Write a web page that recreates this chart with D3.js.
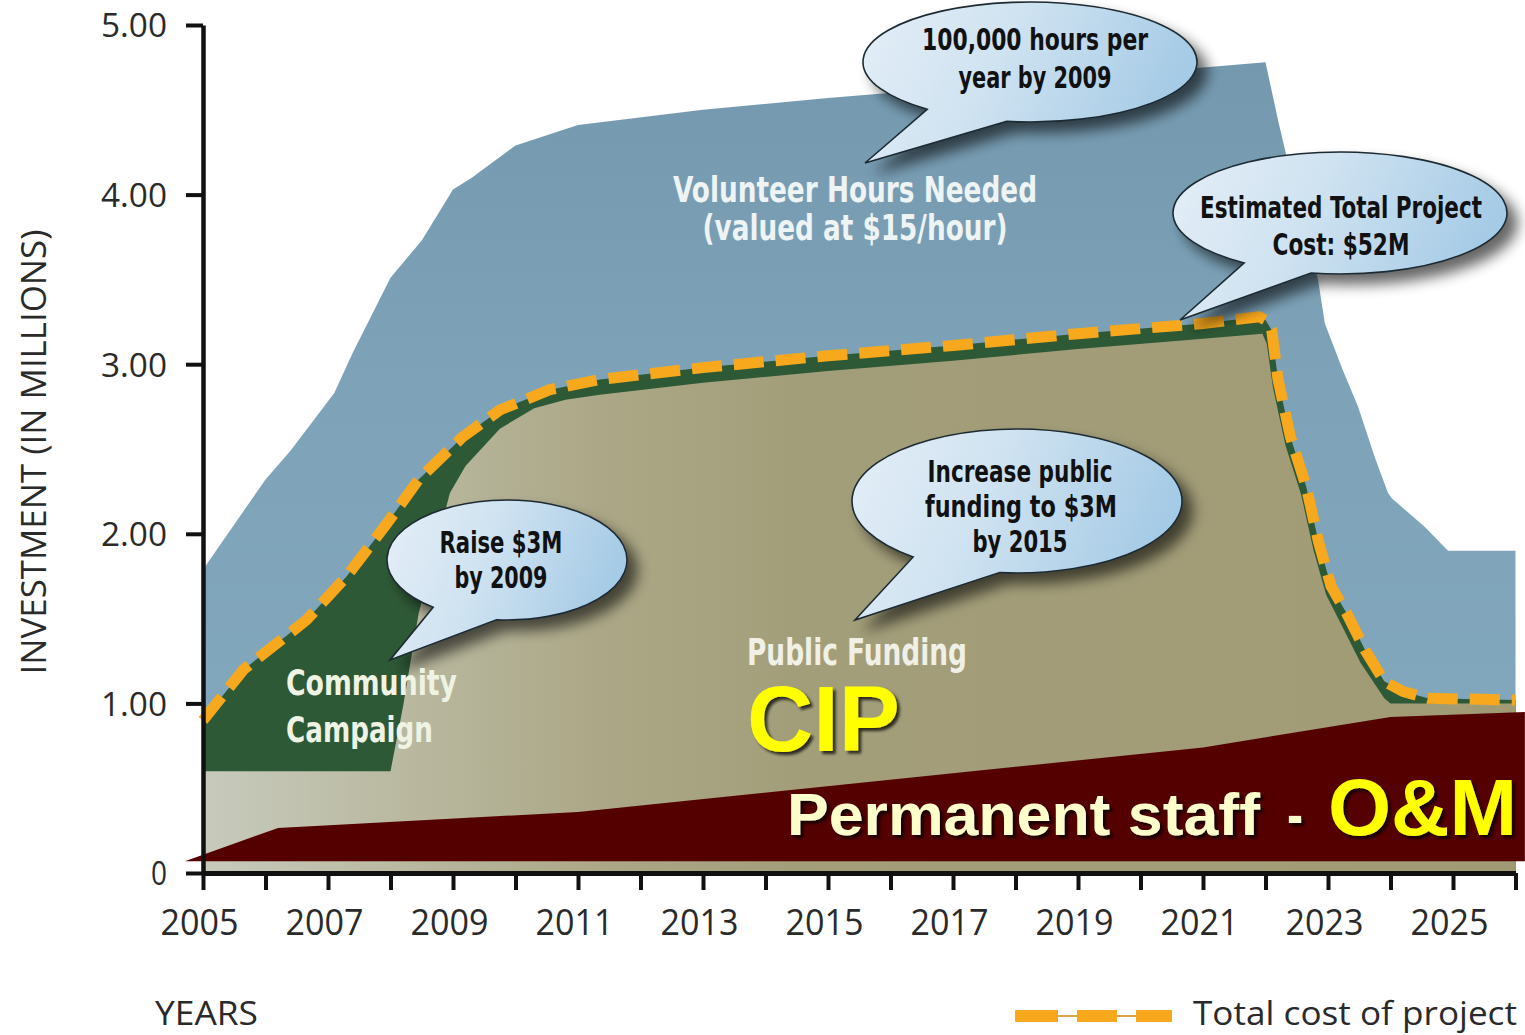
<!DOCTYPE html>
<html><head><meta charset="utf-8">
<script src="https://cdn.jsdelivr.net/npm/d3@7"></script>
<style>
html,body{margin:0;padding:0;background:#fff;}
svg{display:block;}
</style></head>
<body>
<svg id="chart" width="1525" height="1035"></svg>
<script>
// ---------- DATA ----------
const tickYears = [2005,2006,2007,2008,2009,2010,2011,2012,2013,2014,2015,2016,2017,2018,2019,2020,2021,2022,2023,2024,2025,2026];
const labelYears = [2005,2007,2009,2011,2013,2015,2017,2019,2021,2023,2025];
const yTicks = [0,1,2,3,4,5];
const yTickLabels = ["0","1.00","2.00","3.00","4.00","5.00"];

// Volunteer hours (top of blue area), [year, $M]
const volunteer = [[2005.0,1.79],[2006.0,2.32],[2006.4,2.49],[2007.1,2.83],[2007.4,3.07],[2008.0,3.51],[2008.5,3.73],[2009.0,4.03],[2009.3,4.10],[2010.0,4.29],[2011.0,4.41],[2013.0,4.50],[2015.0,4.57],[2017.0,4.63],[2019.0,4.69],[2021.0,4.75],[2022.0,4.78],[2022.2,4.44],[2022.5,3.97],[2022.84,3.50],[2022.95,3.24],[2023.22,2.98],[2023.48,2.75],[2023.75,2.45],[2023.96,2.24],[2024.02,2.21],[2024.55,2.04],[2024.92,1.90],[2026.0,1.90]];
// Total cost of project (dashed line)
const totalCost = [[2005.0,0.90],[2005.65,1.20],[2006.65,1.49],[2007.3,1.75],[2007.9,2.04],[2008.45,2.32],[2009.15,2.57],[2009.75,2.73],[2010.55,2.85],[2011.35,2.91],[2013.0,2.98],[2015.0,3.05],[2017.0,3.11],[2019.0,3.18],[2021.0,3.24],[2021.9,3.28],[2022.0,3.26],[2022.1,3.20],[2022.2,2.91],[2022.4,2.57],[2022.65,2.28],[2022.85,1.95],[2023.05,1.69],[2023.3,1.53],[2023.6,1.31],[2023.9,1.13],[2024.2,1.07],[2024.6,1.03],[2026.0,1.02]];
// Public funding (top of olive area); community campaign fills between this and total
const publicFunding = [[2005.0,0.60],[2008.0,0.60],[2008.2,0.98],[2008.45,1.53],[2008.95,2.24],[2009.2,2.40],[2009.75,2.62],[2010.3,2.74],[2010.8,2.79],[2011.35,2.82],[2013.0,2.89],[2015.0,2.96],[2017.0,3.02],[2019.0,3.09],[2021.0,3.15],[2021.95,3.18],[2022.02,3.12],[2022.12,2.86],[2022.32,2.52],[2022.57,2.23],[2022.77,1.90],[2022.97,1.64],[2023.22,1.46],[2023.52,1.24],[2023.9,1.03],[2024.0,1.00],[2024.6,1.00],[2026.0,1.00]];
// Permanent staff O&M band
const omTop = [[2004.71,0.07],[2006.2,0.265],[2011.0,0.36],[2021.0,0.74],[2024.0,0.92],[2026.15,0.95]];
const omBase = 0.07;

// ---------- SETUP ----------
const svg = d3.select("#chart");
const x = d3.scaleLinear().domain([2005, 2026]).range([203, 1515.5]);
const y = d3.scaleLinear().domain([0, 5]).range([873, 25]);

const defs = svg.append("defs");
const pg = defs.append("linearGradient").attr("id","pubGrad").attr("gradientUnits","userSpaceOnUse")
  .attr("x1",203).attr("y1",0).attr("x2",1515).attr("y2",0);
[[0,"#c7cabc"],[0.16,"#b9b89f"],[0.3,"#aca887"],[0.45,"#a39e7a"],[1,"#a19b75"]].forEach(s=>pg.append("stop").attr("offset",s[0]).attr("stop-color",s[1]));
const bg = defs.append("linearGradient").attr("id","blueGrad").attr("gradientUnits","userSpaceOnUse")
  .attr("x1",0).attr("y1",60).attr("x2",0).attr("y2",870);
[[0,"#7499af"],[0.4,"#7ea3b9"],[1,"#83a9bf"]].forEach(s=>bg.append("stop").attr("offset",s[0]).attr("stop-color",s[1]));
const bub = defs.append("linearGradient").attr("id","bubGrad").attr("x1",0).attr("y1",0).attr("x2",1).attr("y2",0.25);
[[0,"#e4eef7"],[0.45,"#d0e3f1"],[1,"#a6cbe6"]].forEach(s=>bub.append("stop").attr("offset",s[0]).attr("stop-color",s[1]));

const sh = defs.append("filter").attr("id","bubShadow").attr("x","-20%").attr("y","-20%").attr("width","150%").attr("height","160%");
sh.append("feGaussianBlur").attr("in","SourceAlpha").attr("stdDeviation",7).attr("result","b");
sh.append("feOffset").attr("in","b").attr("dx",10).attr("dy",10).attr("result","o");
sh.append("feComponentTransfer").attr("in","o").attr("result","o2").append("feFuncA").attr("type","linear").attr("slope",0.6);
const m1 = sh.append("feMerge"); m1.append("feMergeNode").attr("in","o2"); m1.append("feMergeNode").attr("in","SourceGraphic");

const ts = defs.append("filter").attr("id","txtShadow").attr("x","-10%").attr("y","-10%").attr("width","130%").attr("height","140%");
ts.append("feDropShadow").attr("dx",3).attr("dy",3).attr("stdDeviation",1.5).attr("flood-color","#000").attr("flood-opacity",0.75);

// ---------- AREAS ----------
const areaGen = d3.area().x(d=>x(d[0])).y0(y(0)).y1(d=>y(d[1]));
svg.append("path").datum(volunteer).attr("d",areaGen).attr("fill","url(#blueGrad)");
svg.append("path").datum(totalCost).attr("d",areaGen).attr("fill","#2e5936");
svg.append("path").datum(publicFunding).attr("d",areaGen).attr("fill","url(#pubGrad)");

const omArea = d3.area().x(d=>x(d[0])).y0(y(omBase)).y1(d=>y(d[1]));
svg.append("path").datum(omTop).attr("d",omArea).attr("fill","#550000");

// total line: dashed orange
const lineGen = d3.line().x(d=>x(d[0])).y(d=>y(d[1]));
svg.append("path").datum(totalCost).attr("d",lineGen).attr("fill","none")
  .attr("stroke","#f8a81c").attr("stroke-width",11).attr("stroke-dasharray","30 12").attr("stroke-linejoin","round");

// ---------- BUBBLES ----------
function bubblePath(cx, cy, rx, ry, t1, t2, tx, ty){
  const r = Math.PI/180;
  const p1 = [cx + rx*Math.cos(t1*r), cy + ry*Math.sin(t1*r)];
  const p2 = [cx + rx*Math.cos(t2*r), cy + ry*Math.sin(t2*r)];
  return `M${p2[0]},${p2[1]} A${rx},${ry} 0 1 1 ${p1[0]},${p1[1]} L${tx},${ty} Z`;
}
const bubbles = [
  {cx:1030, cy:62, rx:167, ry:60, t1:98, t2:128, tx:865, ty:163,
   lines:[["100,000 hours per",1035,50,226],["year by 2009",1035,88,153]]},
  {cx:1340, cy:213, rx:167, ry:61, t1:100, t2:125, tx:1180, ty:320,
   lines:[["Estimated Total Project",1341,218,282],["Cost: $52M",1341,255,137]]},
  {cx:507, cy:560, rx:120, ry:60, t1:95, t2:128, tx:390, ty:660,
   lines:[["Raise $3M",501,553,123],["by 2009",501,588,93]]},
  {cx:1017, cy:501, rx:165, ry:72, t1:96, t2:129, tx:855, ty:620,
   lines:[["Increase public",1020,482,185],["funding to $3M",1021,517,192],["by 2015",1020,552,95]]}
];
const condensed = "'Liberation Sans Narrow','Arial Narrow','DejaVu Sans Condensed',sans-serif";
bubbles.forEach(b=>{
  svg.append("path").attr("d",bubblePath(b.cx,b.cy,b.rx,b.ry,b.t1,b.t2,b.tx,b.ty))
    .attr("fill","url(#bubGrad)").attr("stroke","#1e2a33").attr("stroke-width",1.6)
    .attr("filter","url(#bubShadow)");
  b.lines.forEach(l=>{
    svg.append("text").text(l[0]).attr("x",l[1]).attr("y",l[2]).attr("text-anchor","middle")
      .attr("font-family",condensed).attr("font-weight",700).attr("font-size",31)
      .attr("fill","#111").attr("textLength",l[3]).attr("lengthAdjust","spacingAndGlyphs");
  });
});

// ---------- AREA LABELS ----------
function label(txt, xx, yy, size, w, fill, anchor, opts){
  const t = svg.append("text").text(txt).attr("x",xx).attr("y",yy)
    .attr("font-family",(opts&&opts.family)||condensed).attr("font-weight",700).attr("font-size",size)
    .attr("fill",fill).attr("text-anchor",anchor||"start")
    .attr("textLength",w).attr("lengthAdjust","spacingAndGlyphs");
  if(opts && opts.filter) t.attr("filter",opts.filter);
  return t;
}
label("Volunteer Hours Needed", 855, 202, 35, 364, "#eef3f4", "middle");
label("(valued at $15/hour)", 855, 240, 35, 305, "#eef3f4", "middle");
label("Community", 286, 695, 36, 171, "#eef3e4", "start");
label("Campaign", 286, 742, 36, 147, "#eef3e4", "start");
label("Public Funding", 747, 665, 38, 220, "#f0f0e6", "start");
const arialB = "'Liberation Sans',Arial,sans-serif";
label("CIP", 747, 751, 92, 153, "#ffff00", "start", {family:arialB, filter:"url(#txtShadow)"});
label("Permanent staff", 787, 835, 60, 473, "#ffffcc", "start", {family:arialB, filter:"url(#txtShadow)"});
label("-", 1287, 835, 60, 16, "#ffffcc", "start", {family:arialB, filter:"url(#txtShadow)"});
label("O&M", 1328, 835, 80, 189, "#ffff00", "start", {family:arialB, filter:"url(#txtShadow)"});

// ---------- AXES ----------
const regular = "'Open Sans','Noto Sans',sans-serif";
const yAxis = d3.axisLeft(y).tickValues(yTicks).tickFormat((d,i)=>yTickLabels[i]).tickSize(17).tickSizeOuter(0).tickPadding(19);
const gy = svg.append("g").attr("transform",`translate(${x(2005)},0)`).call(yAxis);
gy.select(".domain").attr("stroke","#111").attr("stroke-width",4.5);
gy.selectAll(".tick line").attr("stroke","#111").attr("stroke-width",4);
gy.selectAll(".tick text").attr("font-family",regular).attr("font-size",33).attr("fill","#2a2a2a")
  .attr("dy","0.36em")
  .each(function(d,i){ const w = yTickLabels[i].length===1 ? 16 : 66; d3.select(this).attr("textLength",w).attr("lengthAdjust","spacingAndGlyphs"); });

const xAxis = d3.axisBottom(x).tickValues(tickYears)
  .tickFormat(d => labelYears.includes(d) ? String(d) : "").tickSize(17).tickSizeOuter(0).tickPadding(0);
const gx = svg.append("g").attr("transform",`translate(0,${y(0)})`).call(xAxis);
gx.select(".domain").attr("stroke","#111").attr("stroke-width",5);
gx.selectAll(".tick line").attr("stroke","#111").attr("stroke-width",4);
gx.selectAll(".tick text").attr("font-family",regular).attr("font-size",36).attr("fill","#2a2a2a")
  .attr("y",62).attr("dy",0).attr("dx",-4)
  .each(function(d){ if(labelYears.includes(d)) d3.select(this).attr("textLength",78).attr("lengthAdjust","spacingAndGlyphs"); });

// axis titles
svg.append("text").text("INVESTMENT (IN MILLIONS)").attr("transform","translate(46,452) rotate(-90)")
  .attr("text-anchor","middle").attr("font-family",regular).attr("font-size",34).attr("fill","#2a2a2a")
  .attr("textLength",445).attr("lengthAdjust","spacingAndGlyphs");
svg.append("text").text("YEARS").attr("x",155).attr("y",1025).attr("font-family",regular).attr("font-size",33)
  .attr("fill","#2a2a2a").attr("textLength",103).attr("lengthAdjust","spacingAndGlyphs");

// legend
const legendSeries = ["Total cost of project"];
const lg = svg.append("g");
lg.append("line").attr("x1",1015).attr("x2",1172).attr("y1",1016).attr("y2",1016).attr("stroke","#d9a548").attr("stroke-width",2);
[[1015,1058],[1077,1117],[1136,1172]].forEach(s=>lg.append("rect").attr("x",s[0]).attr("y",1010).attr("width",s[1]-s[0]).attr("height",12).attr("fill","#f8a81c"));
lg.append("text").text(legendSeries[0]).attr("x",1193).attr("y",1025).attr("font-family",regular).attr("font-size",33)
  .attr("fill","#2a2a2a").attr("textLength",324).attr("lengthAdjust","spacingAndGlyphs");
</script>
</body></html>
